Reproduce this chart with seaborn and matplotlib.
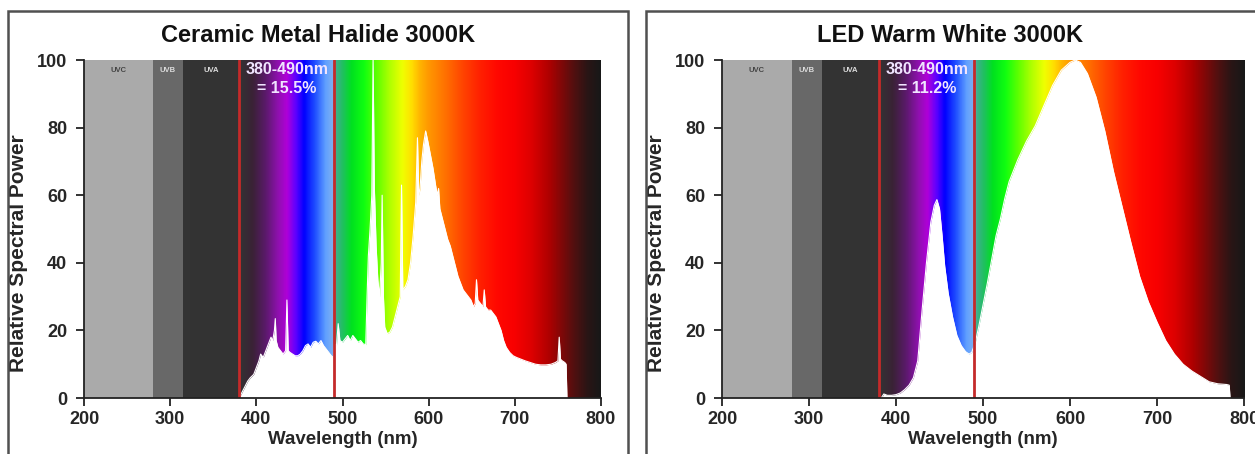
import numpy as np
import matplotlib
matplotlib.use("Agg")
import matplotlib.pyplot as plt
import seaborn as sns
from matplotlib.colors import LinearSegmentedColormap, Normalize
from matplotlib.patches import Rectangle

sns.set_style("ticks")
plt.rcParams['font.family'] = ['Liberation Sans', 'DejaVu Sans']
plt.rcParams['font.weight'] = 'bold'

# --- data ---
cmh_wl = [380, 382, 386, 390, 393, 397, 400, 403, 405, 408,
          411, 414, 417, 419, 421, 422, 423, 425, 428, 431,
          434, 435.5, 437, 439, 442, 445, 448, 451, 454, 457,
          460, 463, 466, 469, 472, 475, 478, 481, 484, 487,
          489.5, 490.5, 493, 495, 497, 500, 503, 506, 509, 512,
          515, 518, 521, 524, 527, 528.5, 530, 532, 534, 535.5,
          537, 539, 541, 543, 545, 546, 547.5, 549, 552, 555,
          558, 561, 564, 567, 568.5, 570, 573, 576, 579, 582,
          585, 587, 588.5, 590, 592, 594, 596.5, 599, 602, 605,
          608, 610, 611.5, 613, 616, 619, 622, 625, 628, 631,
          634, 637, 640, 643, 646, 649, 652, 654, 655.5, 657,
          660, 663, 664.5, 666, 669, 672, 675, 678, 681, 684,
          687, 690, 694, 698, 702, 707, 712, 718, 724, 730,
          736, 742, 747, 750, 751.5, 753, 755, 758, 759.5, 760.5]
cmh_val = [0, 1, 3, 5, 6, 7, 9, 11, 13, 12,
           14, 16, 18, 17, 20, 23.5, 17, 15, 14, 13,
           14, 29, 14, 13.5, 13, 12.5, 12.5, 13, 14, 15.5,
           16, 15, 16.5, 16.8, 16, 17, 15.5, 14.5, 13.5, 12.5,
           12, 16, 15.5, 22, 17, 16.5, 17.5, 18.5, 17, 18.5,
           17.5, 16.5, 17, 16, 15.8, 30, 42, 50, 60, 100,
           62, 45, 35, 30, 40, 60, 30, 21, 19, 19.5,
           21, 24, 27, 30, 63, 32, 33, 35, 40, 48,
           58, 77, 60, 62, 70, 75, 79, 76, 72, 68,
           63, 60, 62, 56, 53, 50, 47, 45, 42, 39,
           36, 34, 32, 31, 30, 29, 27, 28, 35, 29,
           28, 27, 32, 27, 26, 26, 25, 24, 22, 20,
           17, 15, 13.5, 12.5, 12, 11.5, 11, 10.5, 10, 9.8,
           9.8, 10, 10.5, 11, 18, 11.5, 11, 10.5, 10, 0]

led_wl = [383, 386, 390, 395, 400, 405, 410, 415, 420, 425,
          430, 435, 440, 444, 447, 450, 453, 456, 460, 465,
          470, 475, 480, 484, 487, 491, 495, 500, 505, 510,
          515, 520, 525, 530, 540, 550, 560, 570, 580, 590,
          600, 606, 612, 620, 630, 640, 650, 660, 670, 680,
          690, 700, 710, 720, 730, 740, 750, 760, 770, 780,
          783, 784]
led_val = [0, 1.2, 0.8, 0.8, 1, 1.5, 2.5, 3.8, 6, 11,
           26, 40, 52, 57, 58.7, 56, 48, 39, 31, 24,
           18.5, 15.5, 13.7, 13, 13.5, 16.3, 21, 27.5, 34, 41,
           48, 53, 59, 64, 70.5, 76, 80.5, 86.5, 92.5, 97,
           99.3, 100, 99.3, 96, 89, 79, 67, 56.5, 46, 36,
           28.5, 22.5, 17, 13, 10, 8, 6.4, 4.8, 4.2, 4,
           3.8, 0]

titles = ["Ceramic Metal Halide 3000K", "LED Warm White 3000K"]
band_notes = ["380-490nm\n= 15.5%", "380-490nm\n= 11.2%"]
uv_bands = [("UVC", 200, 280), ("UVB", 280, 315), ("UVA", 315, 380)]
x_ticks = [200, 300, 400, 500, 600, 700, 800]
y_ticks = [0, 20, 40, 60, 80, 100]

# colours of the visible spectrum backdrop (wavelength, colour)
spec_nodes = [(380, '#333333'), (395, '#3a2236'), (410, '#5a1a6a'), (425, '#9010b0'),
              (435, '#b000d8'), (445, '#6000ff'), (455, '#0000ff'), (468, '#2050ff'),
              (480, '#60a0ff'), (489, '#80b0f0'), (491, '#40b090'), (500, '#20c060'),
              (510, '#00e020'), (525, '#10ff10'), (540, '#60ff00'), (555, '#b0ff00'),
              (570, '#f0ff00'), (580, '#ffe000'), (590, '#ffb400'), (600, '#ff9800'),
              (620, '#ff7000'), (640, '#ff4400'), (660, '#ff2000'), (680, '#ff0800'),
              (700, '#f80000'), (720, '#dd0000'), (740, '#b00000'), (755, '#800808'),
              (770, '#501010'), (785, '#2a1515'), (800, '#181818')]
uv_colors = ['#aaaaaa', '#686868', '#333333']
uv_text = ['#444444', '#dddddd', '#dddddd']

spec_cmap = LinearSegmentedColormap.from_list(
    "spec", [((w - 380) / 420, c) for w, c in spec_nodes])

fig = plt.figure(figsize=(12.55, 4.54), dpi=100)

# panel frames
for x0, x1 in [(8, 628), (646, 1262)]:
    fig.patches.append(Rectangle((x0 / 1255, -0.05), (x1 - x0) / 1255, 1.05 - 11 / 454,
                                 transform=fig.transFigure, fill=False,
                                 edgecolor='#505050', lw=1.8))

axes_pos = [[84 / 1255, 0.1233, 517 / 1255, 0.7445],
            [722 / 1255, 0.1233, 522 / 1255, 0.7445]]
title_x = [318 / 1255, 950 / 1255]
series = [(cmh_wl, cmh_val), (led_wl, led_val)]

for i in range(2):
    ax = fig.add_axes(axes_pos[i])
    wl, val = series[i]

    grad = np.linspace(380, 800, 1200)[None, :]
    ax.imshow(grad, extent=[380, 800, 0, 100], aspect='auto', cmap=spec_cmap,
              norm=Normalize(380, 800), zorder=0, interpolation='bilinear')
    for (name, a, b), c, tc in zip(uv_bands, uv_colors, uv_text):
        ax.axvspan(a, b, color=c, lw=0, zorder=0)
        ax.text((a + b) / 2, 97, name, ha='center', va='center',
                fontsize=5.5, color=tc, fontweight='bold', zorder=5)

    ax.fill_between(wl, val, 0, color='white', lw=0, zorder=2)
    sns.lineplot(x=wl, y=val, color='white', lw=0.8, ax=ax, zorder=2,
                 estimator=None, sort=False)

    for xv in (380, 490):
        ax.axvline(xv, color='#c42a2a', lw=2, zorder=4)

    ax.text(435.5, 94.3, band_notes[i], ha='center', va='center', fontsize=11.5,
            color='#f0e4ff', fontweight='bold', linespacing=1.3, zorder=5)

    ax.set_xlim(200, 800)
    ax.set_ylim(0, 100)
    ax.set_xticks(x_ticks)
    ax.set_yticks(y_ticks)
    ax.tick_params(direction='out', length=6, width=1.3, color='#222222',
                   labelsize=13, pad=6)
    ax.tick_params(axis='x', pad=3)
    for lab in ax.get_xticklabels() + ax.get_yticklabels():
        lab.set_fontweight('bold')
    sns.despine(ax=ax, top=True, right=True)
    for s in ('left', 'bottom'):
        ax.spines[s].set_linewidth(1.3)
        ax.spines[s].set_color('#222222')
        ax.spines[s].set_zorder(6)

    ax.set_xlabel("Wavelength (nm)", fontsize=13.5, fontweight='bold')
    ax.xaxis.set_label_coords(0.5, -0.098)
    ax.set_ylabel("Relative Spectral Power", fontsize=15, fontweight='bold')
    ax.yaxis.set_label_coords(-0.108, 0.43)

    fig.text(title_x[i], 1 - 35 / 454, titles[i], ha='center', va='center',
             fontsize=17, fontweight='bold', color='#111111')

fig.savefig("out.png", dpi=100)
